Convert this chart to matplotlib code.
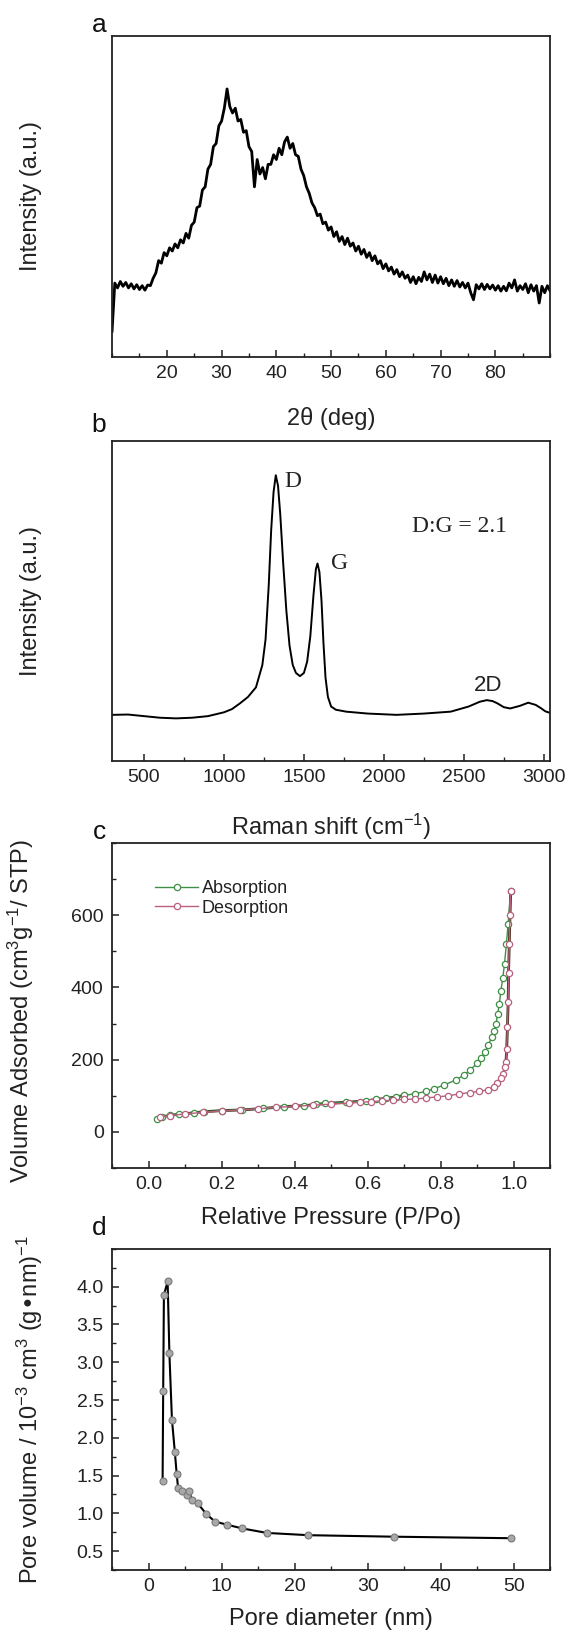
import numpy as np
import matplotlib
matplotlib.use('Agg')
import matplotlib.pyplot as plt
from matplotlib.ticker import MultipleLocator, NullLocator

plt.rcParams['font.family'] = ['Liberation Sans', 'DejaVu Sans']
plt.rcParams['mathtext.default'] = 'regular'

# ---- (a) XRD, intensity read every 0.5 deg from 10 to 90 (relative units)
xrd_start = 10.0
xrd_step = 0.5
xrd_int = [0.08, 0.23, 0.215, 0.235, 0.22, 0.232, 0.215, 0.228, 0.212, 0.225,
           0.21, 0.222, 0.208, 0.224, 0.222, 0.245, 0.262, 0.30, 0.292, 0.325,
           0.315, 0.34, 0.33, 0.352, 0.34, 0.365, 0.355, 0.385, 0.37, 0.41,
           0.42, 0.465, 0.47, 0.52, 0.53, 0.585, 0.60, 0.655, 0.665, 0.72,
           0.735, 0.775, 0.835, 0.78, 0.76, 0.775, 0.735, 0.74, 0.70, 0.705,
           0.655, 0.64, 0.53, 0.615, 0.57, 0.59, 0.555, 0.60, 0.60, 0.63,
           0.615, 0.65, 0.63, 0.67, 0.685, 0.65, 0.665, 0.63, 0.625, 0.585,
           0.565, 0.53, 0.51, 0.48, 0.465, 0.44, 0.445, 0.415, 0.42, 0.395,
           0.405, 0.375, 0.39, 0.36, 0.375, 0.35, 0.37, 0.345, 0.355, 0.33,
           0.345, 0.32, 0.335, 0.31, 0.325, 0.30, 0.315, 0.29, 0.30, 0.275,
           0.29, 0.268, 0.28, 0.258, 0.272, 0.25, 0.265, 0.245, 0.255, 0.232,
           0.25, 0.228, 0.248, 0.235, 0.265, 0.24, 0.258, 0.232, 0.255, 0.23,
           0.25, 0.228, 0.245, 0.222, 0.24, 0.22, 0.238, 0.218, 0.232, 0.215,
           0.23, 0.20, 0.178, 0.225, 0.212, 0.228, 0.21, 0.226, 0.212, 0.224,
           0.208, 0.222, 0.205, 0.22, 0.206, 0.23, 0.215, 0.24, 0.205, 0.222,
           0.21, 0.228, 0.20, 0.225, 0.205, 0.222, 0.168, 0.22, 0.20, 0.222,
           0.205]
two_theta = xrd_start + xrd_step * np.arange(len(xrd_int))

# ---- (b) Raman
raman_shift = [300, 400, 500, 600, 700, 800, 900, 1000, 1050, 1100, 1150, 1200,
               1240, 1260, 1280, 1295, 1310, 1324, 1338, 1352, 1370, 1390, 1410,
               1430, 1450, 1475, 1500, 1520, 1540, 1560, 1575, 1585, 1597, 1610,
               1622, 1635, 1650, 1670, 1700, 1764, 1900, 2079, 2250, 2418, 2530,
               2600, 2644, 2680, 2710, 2750, 2790, 2850, 2903, 2950, 2982, 3010,
               3040]
raman_int = [0.144, 0.145, 0.14, 0.135, 0.133, 0.135, 0.14, 0.152, 0.162, 0.18,
             0.20, 0.23, 0.30, 0.38, 0.55, 0.72, 0.84, 0.893, 0.86, 0.77, 0.62,
             0.47, 0.36, 0.30, 0.275, 0.265, 0.275, 0.31, 0.39, 0.52, 0.60,
             0.617, 0.59, 0.50, 0.37, 0.26, 0.20, 0.17, 0.16, 0.154, 0.148,
             0.144, 0.148, 0.154, 0.17, 0.185, 0.19, 0.187, 0.18, 0.168, 0.164,
             0.172, 0.182, 0.175, 0.165, 0.155, 0.15]

# ---- (c) N2 isotherm
ads_p = [0.023, 0.037, 0.06, 0.083, 0.124, 0.151, 0.2, 0.257, 0.314, 0.37,
         0.427, 0.459, 0.483, 0.541, 0.596, 0.624, 0.651, 0.679, 0.70, 0.73,
         0.76, 0.783, 0.81, 0.842, 0.865, 0.881, 0.90, 0.911, 0.922, 0.931,
         0.94, 0.946, 0.952, 0.956, 0.961, 0.965, 0.97, 0.975, 0.98, 0.985,
         0.992]
ads_v = [35, 42, 46, 49, 53, 56, 59, 61, 65, 70, 73, 76, 79, 82, 86, 90, 93, 97,
         101, 106, 112, 120, 130, 144, 158, 172, 190, 205, 222, 242, 262, 279,
         300, 326, 355, 391, 425, 465, 520, 577, 668]
des_p = [0.992, 0.99, 0.988, 0.986, 0.985, 0.983, 0.981, 0.979, 0.975, 0.97,
         0.965, 0.955, 0.945, 0.93, 0.905, 0.88, 0.85, 0.82, 0.79, 0.76, 0.73,
         0.70, 0.67, 0.64, 0.61, 0.58, 0.55, 0.50, 0.45, 0.40, 0.35, 0.30,
         0.25, 0.20, 0.15, 0.10, 0.06, 0.03]
des_v = [668, 600, 520, 440, 360, 290, 230, 195, 180, 160, 148, 135, 124, 117,
         112, 109, 105, 100, 97, 94, 91, 90, 88, 86, 84, 82, 80, 77, 74, 71, 68,
         64, 61, 58, 54, 50, 45, 40]

# ---- (d) pore size distribution
pore_d = [1.92, 2.0, 2.1, 2.61, 2.85, 3.2, 3.6, 3.85, 4.05, 4.55, 5.28, 5.6,
          5.9, 6.75, 7.9, 9.1, 10.7, 12.8, 16.2, 21.9, 33.6, 49.6]
pore_vol = [1.43, 2.615, 3.89, 4.07, 3.12, 2.24, 1.81, 1.52, 1.33, 1.30, 1.24,
            1.29, 1.18, 1.13, 0.99, 0.89, 0.85, 0.80, 0.74, 0.71, 0.69, 0.67]

fig = plt.figure(figsize=(5.66, 16.35), dpi=100)
left, width = 0.198, 0.774
axa = fig.add_axes([left, 0.7817, width, 0.1963])
axb = fig.add_axes([left, 0.5346, width, 0.1957])
axc = fig.add_axes([left, 0.2856, width, 0.1988])
axd = fig.add_axes([left, 0.0398, width, 0.1963])

txt = '#222222'
for ax in (axa, axb, axc, axd):
    for s in ax.spines.values():
        s.set_linewidth(1.3)
        s.set_color('#222222')
    ax.tick_params(which='both', direction='in', top=False, right=False,
                   labelsize=14, labelcolor=txt, pad=6, color='#222222')
    ax.tick_params(which='major', length=5, width=1.1)
    ax.tick_params(which='minor', length=3, width=1.0)

# a
axa.plot(two_theta, xrd_int, color='black', lw=2.0)
axa.set_xlim(10, 90)
axa.set_ylim(0, 1)
axa.xaxis.set_major_locator(MultipleLocator(10))
axa.xaxis.set_minor_locator(MultipleLocator(5))
axa.set_xticks([20, 30, 40, 50, 60, 70, 80])
axa.yaxis.set_major_locator(NullLocator())
axa.set_xlabel('2θ (deg)', fontsize=17, color=txt)
axa.set_ylabel('Intensity (a.u.)', fontsize=17, color=txt)
axa.xaxis.set_label_coords(0.5, -0.155)
axa.yaxis.set_label_coords(-0.16, 0.5)

# b
axb.plot(raman_shift, raman_int, color='black', lw=1.4)
axb.set_xlim(300, 3040)
axb.set_ylim(0, 1)
axb.xaxis.set_major_locator(MultipleLocator(500))
axb.xaxis.set_minor_locator(MultipleLocator(250))
axb.yaxis.set_major_locator(NullLocator())
axb.set_xlabel('Raman shift (cm$^{-1}$)', fontsize=17, color=txt)
axb.set_ylabel('Intensity (a.u.)', fontsize=17, color=txt)
axb.xaxis.set_label_coords(0.5, -0.16)
axb.yaxis.set_label_coords(-0.16, 0.5)
serif = ['Liberation Serif', 'DejaVu Serif']
axb.text(1380, 0.872, 'D', family=serif, fontsize=17, va='center', color=txt)
axb.text(1669, 0.617, 'G', family=serif, fontsize=17, va='center', color=txt)
axb.text(2176, 0.732, 'D:G = 2.1', family=serif, fontsize=17, va='center', color=txt)
axb.text(2655, 0.237, '2D', fontsize=16, va='center', ha='center', color=txt)

# c
green = '#3f8f46'
pink = '#b8607e'
axc.plot(ads_p[:19], ads_v[:19], color='#3a2a12', lw=2.0, zorder=1)
axc.plot(des_p[:9], des_v[:9], color='#3a2a12', lw=2.0, zorder=1)
axc.plot(ads_p, ads_v, color=green, lw=1.0, marker='o', ms=4.5,
         mfc='white', mec=green, mew=0.9, label='Absorption', zorder=2)
axc.plot(des_p, des_v, color=pink, lw=1.0, marker='o', ms=4.5,
         mfc='white', mec=pink, mew=0.9, label='Desorption', zorder=2)
axc.set_xlim(-0.1, 1.1)
axc.set_ylim(-100, 800)
axc.xaxis.set_major_locator(MultipleLocator(0.2))
axc.xaxis.set_minor_locator(MultipleLocator(0.1))
axc.yaxis.set_major_locator(MultipleLocator(200))
axc.yaxis.set_minor_locator(MultipleLocator(100))
axc.set_xticks([0.0, 0.2, 0.4, 0.6, 0.8, 1.0])
axc.set_yticks([0, 200, 400, 600])
axc.set_xticklabels(['0.0', '0.2', '0.4', '0.6', '0.8', '1.0'])
axc.set_xlabel('Relative Pressure (P/Po)', fontsize=17, color=txt)
axc.set_ylabel('Volume Adsorbed (cm$^{3}$g$^{-1}$/ STP)', fontsize=17, color=txt)
axc.xaxis.set_label_coords(0.5, -0.12)
axc.yaxis.set_label_coords(-0.174, 0.485)
leg = axc.legend(loc='upper left', bbox_to_anchor=(0.098, 0.886), frameon=False,
                 fontsize=13, borderaxespad=0, borderpad=0, handlelength=2.4,
                 handletextpad=0.2, labelspacing=0.15)
for t in leg.get_texts():
    t.set_color(txt)

# d
axd.plot(pore_d, pore_vol, color='black', lw=1.5, marker='o', ms=5,
         mfc='#a8a8a8', mec='#7a7a7a', mew=0.8)
axd.set_xlim(-5, 55)
axd.set_ylim(0.25, 4.5)
axd.xaxis.set_major_locator(MultipleLocator(10))
axd.xaxis.set_minor_locator(MultipleLocator(5))
axd.yaxis.set_major_locator(MultipleLocator(0.5))
axd.yaxis.set_minor_locator(MultipleLocator(0.25))
axd.set_yticks([0.5, 1.0, 1.5, 2.0, 2.5, 3.0, 3.5, 4.0])
axd.set_xlabel('Pore diameter (nm)', fontsize=17, color=txt)
axd.set_ylabel('Pore volume / 10$^{-3}$ cm$^{3}$ (g•nm)$^{-1}$', fontsize=17, color=txt)
axd.xaxis.set_label_coords(0.5, -0.12)
axd.yaxis.set_label_coords(-0.153, 0.5)

# panel letters
for lab, y in (('a', 25), ('b', 425), ('c', 832), ('d', 1228)):
    fig.text(99 / 566, 1 - y / 1635, lab, fontsize=19, ha='center', va='center', color='#111111')

fig.savefig('out.png', dpi=100)
